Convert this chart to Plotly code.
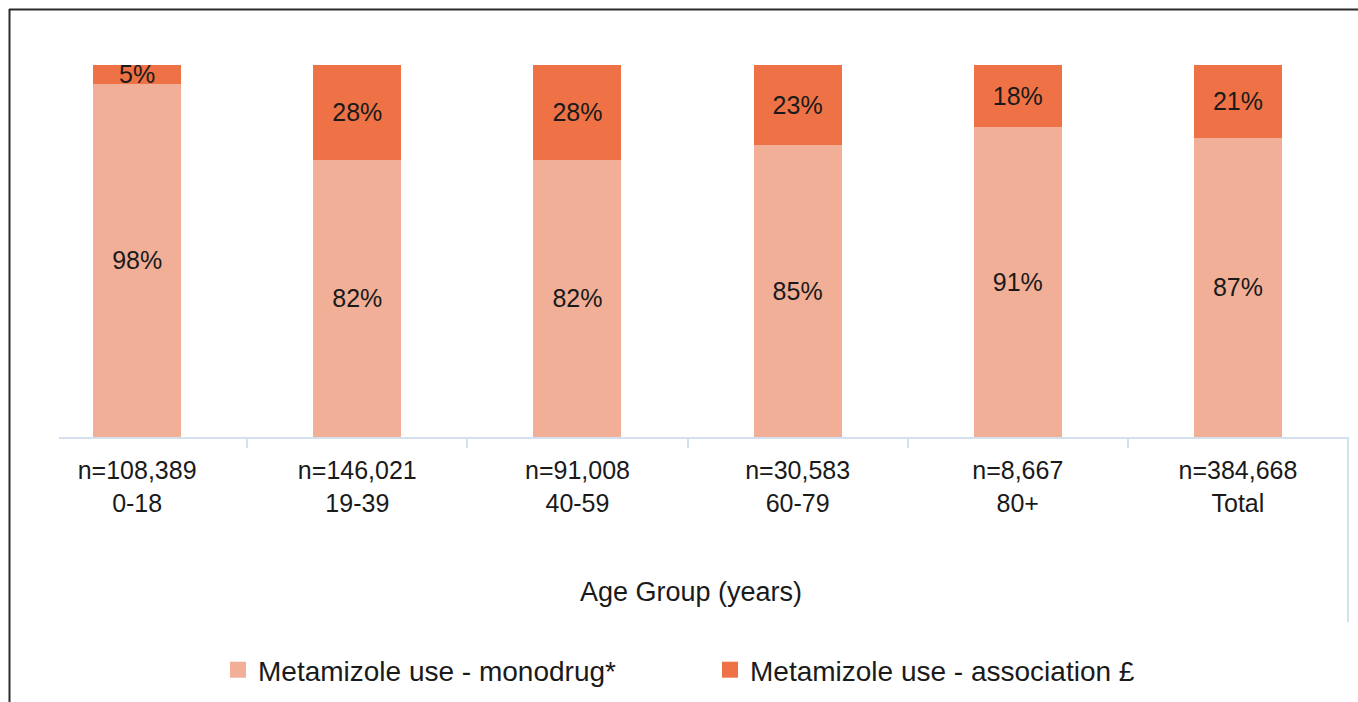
import plotly.graph_objects as go

categories = ["0-18", "19-39", "40-59", "60-79", "80+", "Total"]
n_values = ["108,389", "146,021", "91,008", "30,583", "8,667", "384,668"]
monodrug = [98, 82, 82, 85, 91, 87]
association = [5, 28, 28, 23, 18, 21]

series_names = ["Metamizole use - monodrug*", "Metamizole use - association £"]
colors = ["#F2AF97", "#EE7245"]
tick_text = [f"n={n}<br>{c}" for n, c in zip(n_values, categories)]

W, H = 1358, 702
L, R, T, B = 59, 10, 65, 265
pw, ph = W - L - R, H - T - B

def px_x(p):
    return (p - L) / pw

def px_y(p):
    return (H - B - p) / ph

font_family = "Liberation Sans, Arial, sans-serif"

fig = go.Figure()
for name, vals, col in [(series_names[0], monodrug, colors[0]), (series_names[1], association, colors[1])]:
    fig.add_trace(go.Bar(
        x=categories, y=vals, name=name,
        marker=dict(color=col, line=dict(color=col, width=1)),
        text=[f"{v}%" for v in vals], textposition="inside",
        insidetextanchor="middle",
        textfont=dict(size=25, color="#1a1a1a", family=font_family),
        width=0.395, showlegend=False, hoverinfo="skip",
    ))
for name, col in zip(series_names, colors):
    fig.add_trace(go.Scatter(
        x=[None], y=[None], mode="markers", name=name,
        marker=dict(symbol="square", size=18, color=col),
        showlegend=True,
    ))

fig.update_layout(
    width=W, height=H,
    margin=dict(l=L, r=R, t=T, b=B),
    barmode="stack", barnorm="percent",
    paper_bgcolor="white", plot_bgcolor="white",
    uniformtext=dict(minsize=25, mode="show"),
    font=dict(family=font_family, color="#1a1a1a"),
    xaxis=dict(
        type="category", range=[-0.355, 5.5],
        tickmode="array", tickvals=categories, ticktext=tick_text,
        tickson="boundaries", ticks="outside", ticklen=9, tickcolor="#d5e0ee", tickwidth=2,
        ticklabelstandoff=10,
        showline=True, linecolor="#d5e0ee", linewidth=2,
        showgrid=False, tickfont=dict(size=25, color="#1a1a1a"),
    ),
    yaxis=dict(range=[0, 100], visible=False, showgrid=False),
    legend=dict(
        orientation="h", xref="container", yref="container", traceorder="normal",
        x=(230 - 12) / W, xanchor="left", y=(H - 670) / H, yanchor="middle",
        font=dict(size=28, color="#1a1a1a"), entrywidth=447, bgcolor="rgba(0,0,0,0)",
    ),
    annotations=[dict(
        text="Age Group (years)", xref="paper", yref="paper",
        x=px_x(691), y=px_y(592), showarrow=False,
        font=dict(size=27, color="#1a1a1a"), xanchor="center", yanchor="middle",
    )],
    shapes=[
        dict(type="line", xref="paper", yref="paper", x0=px_x(9), x1=px_x(W + 5), y0=px_y(9.5), y1=px_y(9.5),
             line=dict(color="#2b2b2b", width=2)),
        dict(type="line", xref="paper", yref="paper", x0=px_x(9.5), x1=px_x(9.5), y0=px_y(9), y1=px_y(H + 5),
             line=dict(color="#2b2b2b", width=2)),
        dict(type="line", xref="paper", yref="paper", x0=1, x1=1, y0=0, y1=px_y(622),
             line=dict(color="#d5e0ee", width=2)),
    ],
)

fig.write_html(
    "out.html",
    config={"displayModeBar": False},
    post_script="document.body.style.margin='0';document.body.style.overflow='hidden';",
)
